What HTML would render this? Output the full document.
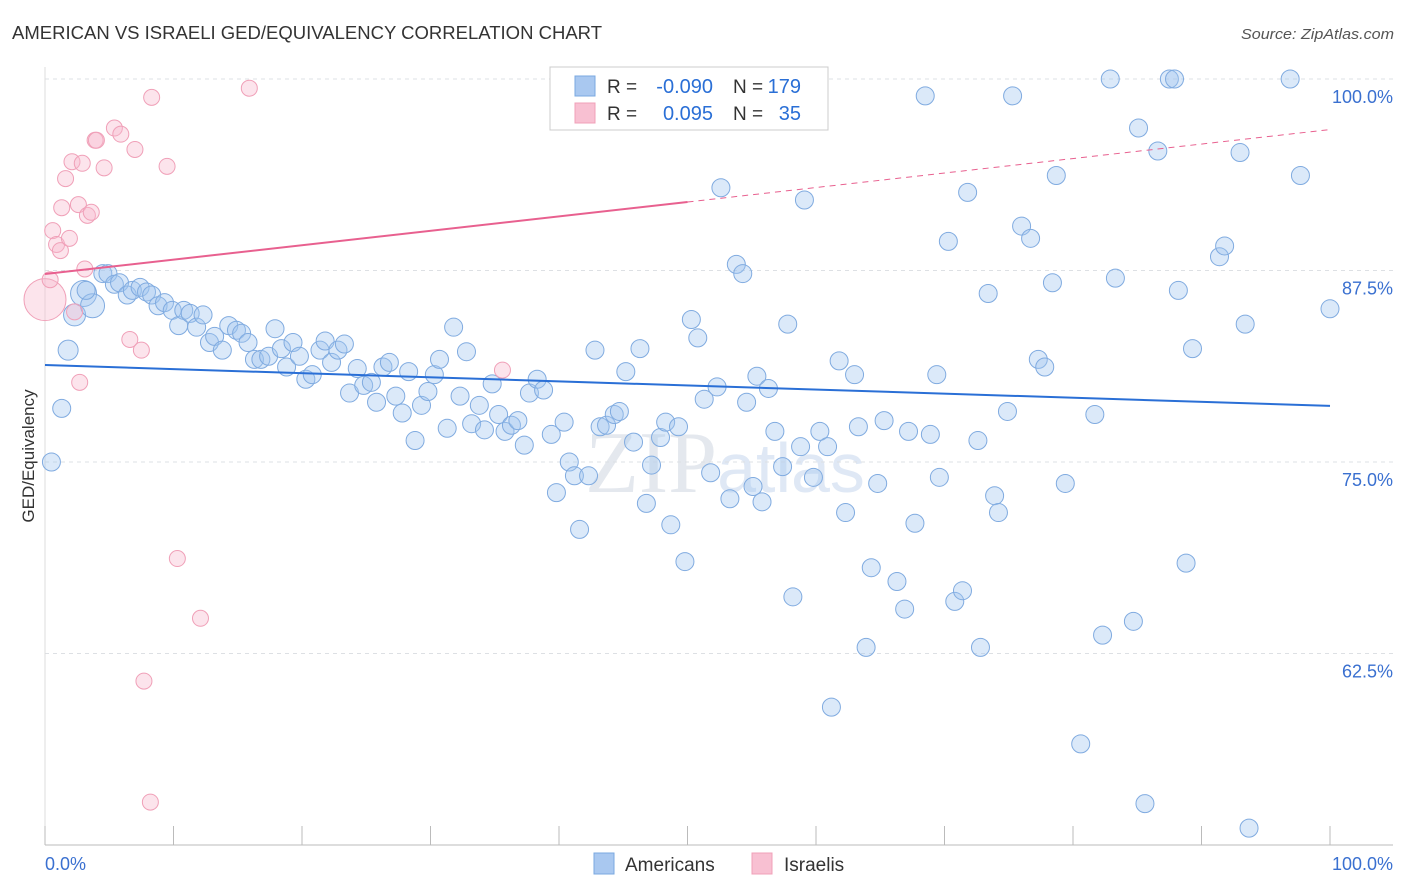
<!DOCTYPE html>
<html><head><meta charset="utf-8"><style>
body{margin:0;background:#fff;font-family:"Liberation Sans",sans-serif;}
svg{display:block}
</style></head><body>
<svg id="c" width="1406" height="892">
<text x="12" y="39" font-size="18" fill="#333" textLength="590" lengthAdjust="spacingAndGlyphs">AMERICAN VS ISRAELI GED/EQUIVALENCY CORRELATION CHART</text>
<text x="1394" y="39" font-size="15" fill="#555" font-style="italic" text-anchor="end" textLength="153" lengthAdjust="spacingAndGlyphs">Source: ZipAtlas.com</text>
<text x="725" y="492" font-size="88" fill="#e4e8ee" text-anchor="middle" font-family="Liberation Serif,serif">ZIP<tspan font-family="Liberation Sans,sans-serif" font-size="70" fill="#dfe8f5">atlas</tspan></text>
<text transform="translate(34,456) rotate(-90)" font-size="17" fill="#333" text-anchor="middle">GED/Equivalency</text>
<g id="grid"></g><g id="pts"></g><g id="lines"></g>
<g>
<rect x="550" y="67" width="278" height="63" fill="#fff" stroke="#ccc"/>
<rect x="575" y="76" width="20" height="20" fill="#a9c8f0" stroke="#7aa8e0"/>
<rect x="575" y="103" width="20" height="20" fill="#f8c0d2" stroke="#f0a0b8"/>
<text x="607" y="93" font-size="19" fill="#333">R =</text>
<text x="713" y="93" font-size="20" fill="#2a6fd6" text-anchor="end">-0.090</text>
<text x="733" y="93" font-size="19" fill="#333">N =</text>
<text x="801" y="93" font-size="20" fill="#2a6fd6" text-anchor="end">179</text>
<text x="607" y="120" font-size="19" fill="#333">R =</text>
<text x="713" y="120" font-size="20" fill="#2a6fd6" text-anchor="end">0.095</text>
<text x="733" y="120" font-size="19" fill="#333">N =</text>
<text x="801" y="120" font-size="20" fill="#2a6fd6" text-anchor="end">35</text>
</g>
<g>
<rect x="594" y="853" width="20" height="21" fill="#a9c8f0" stroke="#7aa8e0"/>
<text x="625" y="871" font-size="19" fill="#333">Americans</text>
<rect x="752" y="853" width="20" height="21" fill="#f8c0d2" stroke="#f0a0b8"/>
<text x="784" y="871" font-size="19" fill="#333">Israelis</text>
</g>
<text x="45" y="870" font-size="18" fill="#3a70d0">0.0%</text>
<text x="1393" y="870" font-size="18" fill="#3a70d0" text-anchor="end">100.0%</text>
</svg>
<script>
const yTicks=[100,87.5,75,62.5];
const yTickLabels=["100.0%","87.5%","75.0%","62.5%"];
const xTicks=[0,10,20,30,40,50,60,70,80,90,100];
const amX=[0.5,1.3,1.8,2.3,3.0,3.7,3.2,4.5,4.9,5.4,5.8,6.4,6.8,7.4,7.9,8.3,8.8,9.3,9.9,10.4,10.8,11.3,11.8,12.3,12.8,13.2,13.8,14.3,14.9,15.3,15.8,16.3,16.8,17.4,17.9,18.4,18.8,19.3,19.8,20.3,20.8,21.4,21.8,22.3,22.8,23.3,23.7,24.3,24.8,25.4,25.8,26.3,26.8,27.3,27.8,28.3,28.8,29.3,29.8,30.3,30.7,31.3,31.8,32.3,32.8,33.2,33.8,34.2,34.8,35.3,35.8,36.3,36.8,37.3,37.7,38.3,38.8,39.4,39.8,40.4,40.8,41.2,41.6,42.3,42.8,43.2,43.7,44.3,44.7,45.2,45.8,46.3,46.8,47.2,47.9,48.3,48.7,49.3,49.8,50.3,50.8,51.3,51.8,52.3,52.6,53.3,53.8,54.3,54.6,55.1,55.4,55.8,56.3,56.8,57.4,57.8,58.2,58.8,59.1,59.8,60.3,60.9,61.2,61.8,62.3,63.0,63.3,63.9,64.3,64.8,65.3,66.3,66.9,67.2,67.7,68.5,68.9,69.4,69.6,70.3,70.8,71.4,71.8,72.6,72.8,73.4,73.9,74.2,74.9,75.3,76.0,76.7,77.3,77.8,78.4,78.7,79.4,80.6,81.7,82.3,82.9,83.3,84.7,85.1,85.6,86.6,87.5,87.9,88.2,88.8,89.3,91.4,91.8,93.0,93.4,93.7,96.9,97.7,100.0];
const amY=[75.0,78.5,82.3,84.6,86.0,85.2,86.2,87.3,87.3,86.6,86.7,85.9,86.2,86.4,86.1,85.9,85.2,85.4,84.9,83.9,84.9,84.7,83.8,84.6,82.8,83.2,82.3,83.9,83.6,83.4,82.8,81.7,81.7,81.9,83.7,82.4,81.2,82.8,81.9,80.4,80.7,82.3,82.9,81.5,82.3,82.7,79.5,81.1,80.0,80.2,78.9,81.2,81.5,79.3,78.2,80.9,76.4,78.7,79.6,80.7,81.7,77.2,83.8,79.3,82.2,77.5,78.7,77.1,80.1,78.1,77.0,77.4,77.7,76.1,79.5,80.4,79.7,76.8,73.0,77.6,75.0,74.1,70.6,74.1,82.3,77.3,77.4,78.1,78.3,80.9,76.3,82.4,72.3,74.8,76.6,77.6,70.9,77.3,68.5,84.3,83.1,79.1,74.3,79.9,92.9,72.6,87.9,87.3,78.9,73.4,80.6,72.4,79.8,77.0,74.7,84.0,66.2,76.0,92.1,74.0,77.0,76.0,59.0,81.6,71.7,80.7,77.3,62.9,68.1,73.6,77.7,67.2,65.4,77.0,71.0,98.9,76.8,80.7,74.0,89.4,65.9,66.6,92.6,76.4,62.9,86.0,72.8,71.7,78.3,98.9,90.4,89.6,81.7,81.2,86.7,93.7,73.6,56.6,78.1,63.7,100.0,87.0,64.6,96.8,52.7,95.3,100.0,100.0,86.2,68.4,82.4,88.4,89.1,95.2,84.0,51.1,100.0,93.7,85.0];
const isX=[0,0.4,0.6,0.9,1.2,1.3,1.6,1.9,2.1,2.3,2.6,2.7,2.9,3.1,3.3,3.6,3.9,4.0,4.6,5.4,5.9,6.6,7.0,7.5,7.7,8.2,8.3,9.5,10.3,12.1,15.9,35.6,45.4];
const isY=[85.6,86.9,90.1,89.2,88.8,91.6,93.5,89.6,94.6,84.8,91.8,80.2,94.5,87.6,91.1,91.3,96.0,96.0,94.2,96.8,96.4,83.0,95.4,82.3,60.7,52.8,98.8,94.3,68.7,64.8,99.4,81.0,100.0];
const amTrend=[81.33,78.66];
const isTrend=[87.27,91.97,96.7];
const X=v=>45+v*12.85, Y=v=>79+(100-v)*15.32;
const NS="http://www.w3.org/2000/svg";
function mk(t,a,p){const e=document.createElementNS(NS,t);for(const k in a)e.setAttribute(k,a[k]);p.appendChild(e);return e;}
const grid=document.getElementById('grid'),pts=document.getElementById('pts'),ln=document.getElementById('lines');
yTicks.forEach((t,i)=>{
 const g=mk('line',{x1:45,x2:1393,y1:Y(t),y2:Y(t),stroke:'#dde0e4','stroke-dasharray':'4,4'},grid);
 
 
 const tx=mk('text',{x:1393,y:Y(t)+24,'font-size':18,fill:'#3a70d0','text-anchor':'end'},grid);
 tx.textContent=yTickLabels[i];
 
 
});
const ax=mk('line',{x1:45,x2:1393,y1:845,y2:845,stroke:'#bbb'},grid);


const ay=mk('line',{x1:45,x2:45,y1:67,y2:845,stroke:'#ddd'},grid);


xTicks.forEach(t=>{const l=mk('line',{x1:X(t),x2:X(t),y1:826,y2:845,stroke:'#bbb'},grid);
 
 });
amX.forEach((x,i)=>{const r=i==4?13:i==5?12:i==3?11:i==2?10:9;
 const c=mk('circle',{cx:X(x),cy:Y(amY[i]),r:r,fill:'rgba(160,196,240,0.38)',stroke:'#80abe0','stroke-width':1},pts);
 
 });
isX.forEach((x,i)=>{const r=i==0?21:8;
 const c=mk('circle',{cx:X(x),cy:Y(isY[i]),r:r,fill:'rgba(248,184,204,0.38)',stroke:'#f0a0b8','stroke-width':1},pts);
 
 });
const l1=mk('line',{x1:X(0),y1:Y(amTrend[0]),x2:X(100),y2:Y(amTrend[1]),stroke:'#2a6fd6','stroke-width':2},ln);


const l2=mk('line',{x1:X(0),y1:Y(isTrend[0]),x2:X(50),y2:Y(isTrend[1]),stroke:'#e8608f','stroke-width':2},ln);


const l3=mk('line',{x1:X(50),y1:Y(isTrend[1]),x2:X(100),y2:Y(isTrend[2]),stroke:'#e8608f','stroke-width':1,'stroke-dasharray':'6,5'},ln);


</script>
</body></html>
